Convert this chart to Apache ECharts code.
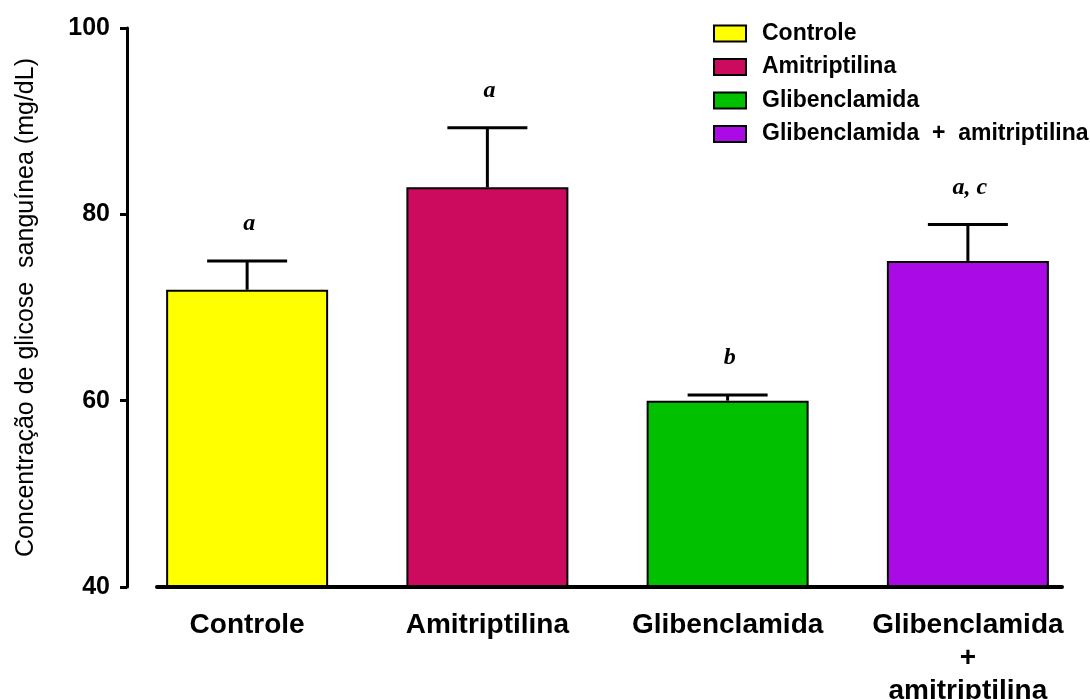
<!DOCTYPE html>
<html>
<head>
<meta charset="utf-8">
<script src="https://cdn.jsdelivr.net/npm/echarts@6/dist/echarts.min.js"></script>
<style>
html,body{margin:0;padding:0;background:#fff;}
#chart{width:1090px;height:699px;}
</style>
</head>
<body>
<div id="chart"></div>
<script>
const categories = ['Controle', 'Amitriptilina', 'Glibenclamida', 'Glibenclamida\n+\namitriptilina'];
const legendNames = ['Controle', 'Amitriptilina', 'Glibenclamida', 'Glibenclamida  +  amitriptilina'];
const means = [71.9, 82.9, 60.0, 75.0];
const errors = [3.1, 6.4, 0.6, 3.9];
const annotations = ['a', 'a', 'b', 'a, c'];
const colors = ['#FFFF00', '#CC0A5E', '#00C000', '#AA0AE6'];
const yTicks = { min: 40, max: 100, interval: 20 };

const chart = echarts.init(document.getElementById('chart'), null, { renderer: 'canvas' });

const barSeries = legendNames.map((name, i) => ({
  name: name,
  type: 'bar',
  xAxisIndex: 0,
  yAxisIndex: 0,
  barWidth: 162,
  barGap: '-100%',
  data: means.map((v, j) => (j === i ? v : '-')),
  itemStyle: { color: colors[i], borderColor: '#000', borderWidth: 2 },
  silent: true,
  animation: false
}));

const errSeries = {
  type: 'custom',
  xAxisIndex: 0,
  yAxisIndex: 0,
  z: 5,
  animation: false,
  data: means.map((v, i) => [i, v, errors[i]]),
  renderItem: function (params, api) {
    const idx = api.value(0);
    const v = api.value(1);
    const e = api.value(2);
    const p0 = api.coord([idx, v]);
    const p1 = api.coord([idx, v + e]);
    const half = 40;
    return {
      type: 'group',
      children: [
        { type: 'line', shape: { x1: p0[0], y1: p0[1], x2: p1[0], y2: p1[1] }, style: { stroke: '#000', lineWidth: 3 } },
        { type: 'line', shape: { x1: p0[0] - half, y1: p1[1], x2: p0[0] + half, y2: p1[1] }, style: { stroke: '#000', lineWidth: 3 } },
        { type: 'text', x: p0[0] + 2, y: p1[1] - 37, style: {
            text: annotations[params.dataIndex], fill: '#000',
            font: 'italic bold 24px "Liberation Serif", "DejaVu Serif", serif',
            align: 'center', verticalAlign: 'middle' } }
      ]
    };
  }
};

const option = {
  backgroundColor: '#fff',
  animation: false,
  grid: [
    { left: 127, right: 2, top: 28, bottom: 112, outerBoundsMode: 'none', containLabel: false },
    { left: 157, right: 28, top: 28, bottom: 112, outerBoundsMode: 'none', containLabel: false }
  ],
  legend: {
    orient: 'vertical',
    left: 708,
    top: 17,
    itemWidth: 32,
    itemHeight: 16,
    itemGap: 10.5,
    icon: 'rect',
    data: legendNames,
    selectedMode: false,
    textStyle: {
      fontFamily: '"Liberation Sans", Arial, sans-serif',
      fontWeight: 'bold',
      fontSize: 23,
      color: '#000',
      padding: [0, 0, 0, 11]
    }
  },
  xAxis: [
    {
      type: 'category',
      gridIndex: 0,
      data: categories,
      axisLine: { show: false },
      axisTick: { show: false },
      axisLabel: {
        interval: 0,
        margin: 22,
        color: '#000',
        fontFamily: '"Liberation Sans", Arial, sans-serif',
        fontWeight: 'bold',
        fontSize: 28,
        lineHeight: 33
      }
    },
    {
      type: 'value',
      gridIndex: 1,
      z: 10,
      min: 0,
      max: 1,
      axisLine: { show: true, lineStyle: { color: '#000', width: 4 } },
      axisTick: { show: false },
      axisLabel: { show: false },
      splitLine: { show: false }
    }
  ],
  yAxis: [
    {
      type: 'value',
      gridIndex: 0,
      min: yTicks.min,
      max: yTicks.max,
      interval: yTicks.interval,
      name: 'Concentração de glicose  sanguínea (mg/dL)',
      nameLocation: 'middle',
      nameGap: 88,
      nameTextStyle: {
        fontFamily: '"Liberation Sans", Arial, sans-serif',
        fontSize: 25,
        color: '#000'
      },
      axisLine: { show: true, lineStyle: { color: '#000', width: 3 } },
      axisTick: { show: true, length: 7, lineStyle: { color: '#000', width: 3 } },
      axisLabel: {
        margin: 17,
        color: '#000',
        fontFamily: '"Liberation Sans", Arial, sans-serif',
        fontWeight: 'bold',
        fontSize: 25
      },
      splitLine: { show: false }
    },
    {
      type: 'value',
      gridIndex: 1,
      show: false,
      min: 0,
      max: 1
    }
  ],
  series: barSeries.concat([errSeries])
};

chart.setOption(option);
</script>
</body>
</html>
